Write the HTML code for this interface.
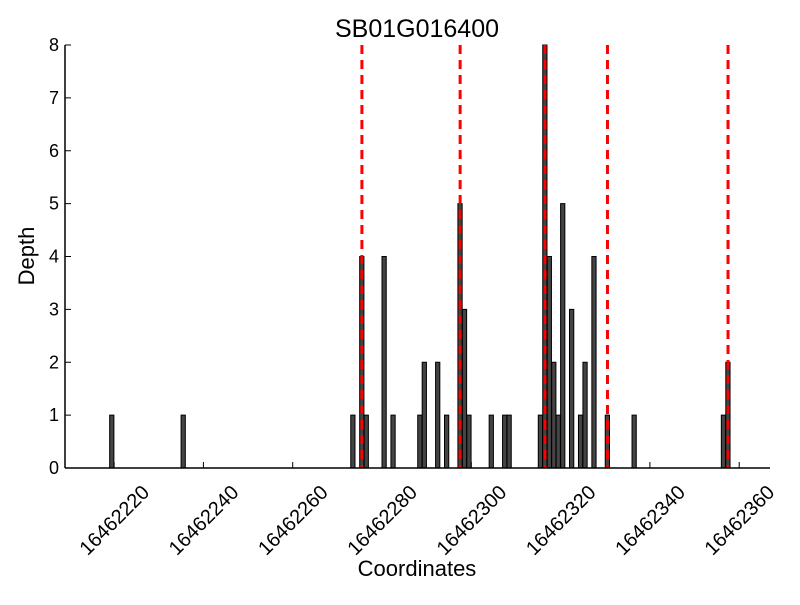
<!DOCTYPE html>
<html><head><meta charset="utf-8"><style>
body{margin:0;background:#fff;}
svg text{font-family:"Liberation Sans",sans-serif;}
</style></head><body>
<svg id="chart" width="800" height="600" xmlns="http://www.w3.org/2000/svg">
<rect width="800" height="600" fill="#fff"/>
<text x="417" y="37" font-size="25" text-anchor="middle">SB01G016400</text>
<text transform="translate(34,256) rotate(-90)" font-size="22" text-anchor="middle">Depth</text>
<text x="417" y="576" font-size="22" text-anchor="middle">Coordinates</text>
<g id="bars"></g>
<g id="vlines"></g>
<g id="axes"></g>
</svg>
<script>
const positions=[16462219,16462235,16462273,16462275,16462276,16462280,16462282,16462288,16462289,16462292,16462294,16462297,16462298,16462299,16462304,16462307,16462308,16462315,16462316,16462317,16462318,16462319,16462320,16462322,16462324,16462325,16462327,16462330,16462336,16462356,16462357];
const depths=[1,1,1,4,1,4,1,1,2,2,1,5,3,1,1,1,1,1,8,4,2,1,5,3,1,2,4,1,1,1,2];
const featureLines=[16462275.5,16462297.5,16462316.5,16462330.5,16462357.5];
const xTicks=[16462220,16462240,16462260,16462280,16462300,16462320,16462340,16462360];
const yTicks=[0,1,2,3,4,5,6,7,8];
const NS="http://www.w3.org/2000/svg";
const L=65,R=770,T=45,B=468;
const xMin=16462209.0,xMax=16462366.9,yMax=8;
const X=v=>L+(v-xMin)/(xMax-xMin)*(R-L);
const Y=v=>B-v/yMax*(B-T);
function mk(tag,attrs,parent){const e=document.createElementNS(NS,tag);for(const k in attrs)e.setAttribute(k,attrs[k]);parent.appendChild(e);return e;}
const gb=document.getElementById('bars');
positions.forEach((p,i)=>{
  const x0=X(p),x1=X(p+0.95);
  const r=mk('rect',{x:x0,y:Y(depths[i]),width:x1-x0,height:Y(0)-Y(depths[i]),fill:'#444',stroke:'#000','stroke-width':1},gb);
  
  
});
const gv=document.getElementById('vlines');
featureLines.forEach((p,i)=>{
  const l=mk('line',{x1:X(p),x2:X(p),y1:T,y2:B,stroke:'#f00','stroke-width':3,'stroke-dasharray':'9,6'},gv);
  
  
});
const ga=document.getElementById('axes');
mk('line',{x1:L,x2:L,y1:T,y2:B,stroke:'#000','stroke-width':1.5},ga);
mk('line',{x1:L,x2:R,y1:B,y2:B,stroke:'#000','stroke-width':1.5},ga);
yTicks.forEach(t=>{
  mk('line',{x1:L,x2:L+6,y1:Y(t),y2:Y(t),stroke:'#000','stroke-width':1},ga);
  const tx=mk('text',{x:L-6,y:Y(t)+6,'font-size':18,'text-anchor':'end'},ga);
  tx.textContent=t;
  
  
});
xTicks.forEach(t=>{
  const x=X(t);
  mk('line',{x1:x,x2:x,y1:B,y2:B-6,stroke:'#000','stroke-width':1},ga);
  const tx=mk('text',{x:0,y:7,'font-size':20,'text-anchor':'middle',transform:`translate(${x},520) rotate(-45)`},ga);
  tx.textContent=t;
  
  
});
</script>
</body></html>
